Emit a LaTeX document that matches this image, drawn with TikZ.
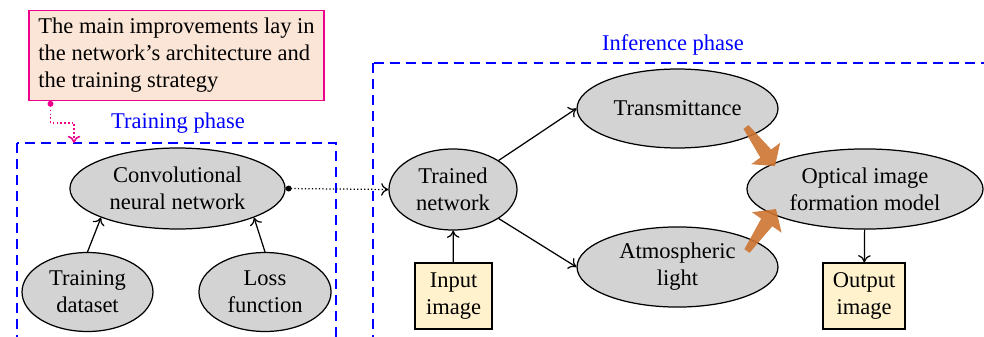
\documentclass[tikz,border=0pt]{standalone}
\usepackage{fontspec}
\setmainfont{Liberation Serif}
\usetikzlibrary{calc,shapes.geometric,arrows.meta}
\definecolor{notefill}{RGB}{251,229,214}
\definecolor{boxfill}{RGB}{255,242,204}
\definecolor{ellfill}{RGB}{211,211,211}
\definecolor{arrowbrown}{RGB}{206,116,50}
\tikzset{
  blob/.style={ellipse, draw, fill=ellfill, align=center, inner sep=1pt},
  imgbox/.style={rectangle, draw, fill=boxfill, align=center, inner sep=1pt},
  phase/.style={draw=blue, line width=0.7pt, dash pattern=on 4.4pt off 2.7pt},
  fatarrow/.style={fill=arrowbrown, fill opacity=0.9},
  link/.style={-{To[length=3.2pt,width=5.6pt]}},
  dotlink/.style={densely dotted, {Circle[length=2.6pt]}-{To[length=3.2pt,width=5.6pt]}}
}
\def\fatarrow(#1)(#2){%
  \coordinate (neck) at ($(#1)!0.68!(#2)$);
  \fill[fatarrow] ($(#1)!1.4pt!90:(#2)$) -- ($(neck)!3pt!90:(#2)$)
    -- ($(neck)!8pt!90:(#2)$) -- (#2) -- ($(neck)!8pt!-90:(#2)$)
    -- ($(neck)!3pt!-90:(#2)$) -- ($(#1)!1.4pt!-90:(#2)$) -- cycle;}

\begin{document}
\begin{tikzpicture}[x=0.4444pt, y=-0.4444pt, line width=0.55pt]
		%%%%% START %%%%%
		\clip (0,0) rectangle (984,336);
		
		\draw[phase] (17,143) rectangle (336,360);
		\draw[phase] (373,63) rectangle (1000,360);
		\node[blue] (trainlbl) at (178,123) {Training phase};
		\node[blue] (inflbl) at (673,45) {Inference phase};
		
		\node[draw=magenta, fill=notefill, align=left, inner xsep=3.5pt, minimum width=131pt, minimum height=39.6pt] (note) at (176.5,55.5) {The main improvements lay in\\ the network's architecture and\\ the training strategy};
		
		\node[blob, minimum width=95.6pt, minimum height=36pt] (cnn) at (177.5,188.5) {Convolutional\\ neural network};
		\node[blob, minimum width=58.2pt, minimum height=35.1pt] (data) at (87.5,292) {Training\\ dataset};
		\node[blob, minimum width=58.7pt, minimum height=35.1pt] (loss) at (265,292) {Loss\\ function};
		
		\node[blob, minimum width=56.9pt, minimum height=36pt] (trained) at (453,189.5) {Trained\\ network};
		\node[imgbox, minimum width=34.2pt, minimum height=29.3pt] (input) at (453.5,296) {Input\\ image};
		\node[blob, minimum width=89.3pt, minimum height=35.1pt] (trans) at (677.5,108.5) {Transmittance};
		\node[blob, minimum width=89.3pt, minimum height=35.6pt] (atmo) at (677.5,267) {Atmospheric\\ light};
		\node[blob, minimum width=104.9pt, minimum height=35.6pt] (optical) at (865,189) {Optical image\\ formation model};
		\node[imgbox, minimum width=36.4pt, minimum height=29.3pt] (output) at (864,296) {Output\\ image};
		
		\draw[link] (data.north) -- (cnn.south west);
		\draw[link] (loss.north) -- (cnn.south east);
		\draw[dotlink] (cnn.east) -- (trained.west);
		\draw[link] (input) -- (trained);
		\draw[link] (trained.north east) -- (trans.west);
		\draw[link] (trained.south east) -- (atmo.west);
		\draw[link] (optical) -- (output);
		
		\coordinate (pin) at ($(note.south west)+(22,0)$);
		\coordinate (pinend) at (74,143);
		\draw[magenta, dotlink, line width=0.7pt] (pin) -- ++(0,22) -| (pinend);
		
		\coordinate (ta) at (746,127);
		\coordinate (tb) at (775,166);
		\coordinate (aa) at (747,251);
		\coordinate (ab) at (776,209);
		\fatarrow(ta)(tb)
		\fatarrow(aa)(ab)
		
		%%%%% END %%%%%
\end{tikzpicture}
\end{document}
